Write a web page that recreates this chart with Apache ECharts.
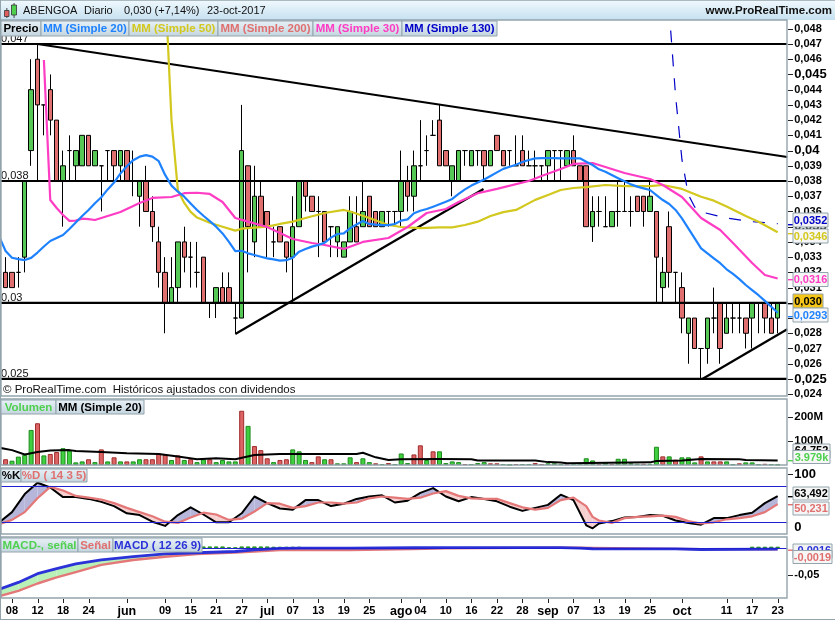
<!DOCTYPE html>
<html><head><meta charset="utf-8">
<style>html,body{margin:0;padding:0;background:#fff}#c{width:835px;height:620px}</style>
<script src="https://cdn.jsdelivr.net/npm/echarts@6/dist/echarts.min.js"></script>
</head><body><div id="c"></div>
<script>
const dates=['05-04','05-05','05-08','05-09','05-10','05-11','05-12','05-15','05-16','05-17','05-18','05-19','05-22','05-23','05-24','05-25','05-26','05-29','05-30','05-31','06-01','06-02','06-05','06-06','06-07','06-08','06-09','06-12','06-13','06-14','06-15','06-16','06-19','06-20','06-21','06-22','06-23','06-26','06-27','06-28','06-29','06-30','07-03','07-04','07-05','07-06','07-07','07-10','07-11','07-12','07-13','07-14','07-17','07-18','07-19','07-20','07-21','07-24','07-25','07-26','07-27','07-28','07-31','08-01','08-02','08-03','08-04','08-07','08-08','08-09','08-10','08-11','08-14','08-15','08-16','08-17','08-18','08-21','08-22','08-23','08-24','08-25','08-28','08-29','08-30','08-31','09-01','09-04','09-05','09-06','09-07','09-08','09-11','09-12','09-13','09-14','09-15','09-18','09-19','09-20','09-21','09-22','09-25','09-26','09-27','09-28','09-29','10-02','10-03','10-04','10-05','10-06','10-09','10-10','10-11','10-12','10-13','10-16','10-17','10-18','10-19','10-20','10-23','10-24'];
const tickLabels={'05-08':'08','05-12':'12','05-18':'18','05-24':'24','06-01':'jun','06-09':'09','06-15':'15','06-21':'21','06-27':'27','07-03':'jul','07-07':'07','07-13':'13','07-19':'19','07-25':'25','08-01':'ago','08-04':'04','08-10':'10','08-16':'16','08-22':'22','08-28':'28','09-01':'sep','09-07':'07','09-13':'13','09-19':'19','09-25':'25','10-02':'oct','10-11':'11','10-17':'17','10-23':'23'};
const opens=[0.032,0.032,0.032,0.033,0.040,0.046,0.043,0.044,0.042,0.038,0.040,0.039,0.039,0.041,0.039,0.039,0.040,0.040,0.039,0.040,0.038,0.037,0.038,0.036,0.034,0.032,0.030,0.031,0.034,0.033,0.032,0.033,0.030,0.030,0.031,0.031,0.029,0.029,0.039,0.034,0.037,0.036,0.034,0.035,0.034,0.033,0.035,0.038,0.037,0.036,0.036,0.035,0.034,0.033,0.034,0.035,0.035,0.037,0.036,0.035,0.036,0.036,0.036,0.038,0.037,0.039,0.040,0.041,0.042,0.040,0.038,0.038,0.040,0.039,0.040,0.040,0.039,0.041,0.040,0.040,0.039,0.040,0.039,0.039,0.039,0.039,0.040,0.040,0.039,0.040,0.039,0.039,0.035,0.036,0.035,0.035,0.036,0.036,0.036,0.037,0.037,0.036,0.036,0.031,0.035,0.032,0.031,0.028,0.029,0.027,0.027,0.029,0.030,0.028,0.029,0.029,0.029,0.029,0.030,0.030,0.029,0.029];
const closes=[0.031,0.031,0.032,0.038,0.044,0.043,0.043,0.042,0.038,0.039,0.040,0.040,0.041,0.039,0.040,0.039,0.040,0.039,0.040,0.038,0.038,0.038,0.036,0.035,0.032,0.030,0.031,0.034,0.033,0.033,0.032,0.030,0.030,0.031,0.030,0.030,0.029,0.040,0.035,0.037,0.035,0.035,0.034,0.034,0.033,0.035,0.038,0.037,0.036,0.036,0.034,0.035,0.035,0.034,0.036,0.034,0.036,0.035,0.035,0.036,0.036,0.036,0.038,0.037,0.039,0.039,0.040,0.041,0.039,0.039,0.039,0.040,0.040,0.040,0.040,0.039,0.040,0.040,0.039,0.040,0.039,0.039,0.039,0.039,0.039,0.040,0.040,0.040,0.040,0.039,0.038,0.035,0.036,0.036,0.035,0.036,0.036,0.036,0.036,0.036,0.036,0.037,0.033,0.032,0.032,0.032,0.029,0.029,0.027,0.027,0.029,0.029,0.027,0.029,0.029,0.029,0.028,0.030,0.030,0.029,0.028,0.030];
const lows=[0.031,0.031,0.031,0.032,0.039,0.038,0.041,0.041,0.038,0.035,0.038,0.038,0.039,0.039,0.039,0.036,0.038,0.038,0.038,0.038,0.037,0.035,0.036,0.034,0.031,0.028,0.030,0.030,0.032,0.031,0.031,0.030,0.029,0.029,0.030,0.030,0.028,0.029,0.032,0.033,0.035,0.033,0.033,0.034,0.032,0.030,0.035,0.036,0.036,0.033,0.034,0.033,0.033,0.033,0.034,0.034,0.035,0.035,0.035,0.035,0.035,0.035,0.035,0.036,0.036,0.038,0.039,0.041,0.039,0.039,0.037,0.038,0.039,0.039,0.039,0.038,0.039,0.040,0.039,0.039,0.039,0.039,0.039,0.038,0.038,0.038,0.038,0.038,0.039,0.039,0.038,0.035,0.034,0.035,0.035,0.035,0.035,0.036,0.035,0.036,0.035,0.036,0.030,0.030,0.031,0.030,0.028,0.026,0.027,0.025,0.026,0.028,0.026,0.028,0.028,0.028,0.027,0.027,0.028,0.028,0.028,0.028];
const highs=[0.033,0.032,0.033,0.038,0.046,0.047,0.043,0.045,0.042,0.040,0.041,0.040,0.041,0.041,0.040,0.039,0.040,0.040,0.040,0.040,0.040,0.038,0.039,0.037,0.035,0.033,0.033,0.034,0.035,0.034,0.034,0.033,0.030,0.031,0.032,0.032,0.030,0.043,0.039,0.039,0.038,0.036,0.035,0.035,0.034,0.037,0.038,0.038,0.037,0.037,0.036,0.035,0.035,0.034,0.037,0.037,0.038,0.037,0.036,0.036,0.036,0.036,0.040,0.039,0.040,0.042,0.041,0.042,0.043,0.040,0.039,0.040,0.040,0.040,0.040,0.040,0.040,0.041,0.040,0.040,0.041,0.041,0.040,0.040,0.039,0.040,0.040,0.040,0.040,0.041,0.039,0.039,0.037,0.037,0.037,0.036,0.038,0.038,0.037,0.037,0.037,0.038,0.036,0.033,0.036,0.032,0.032,0.029,0.029,0.027,0.029,0.031,0.030,0.030,0.030,0.030,0.029,0.030,0.030,0.030,0.030,0.030];
const ma20=[0.03435,0.0334,0.03296,0.03287,0.03281,0.03295,0.0333,0.0337,0.03406,0.03425,0.03445,0.03485,0.03527,0.0357,0.0361,0.03654,0.03693,0.03745,0.0379,0.0385,0.03897,0.03937,0.0396,0.0397,0.0396,0.0393,0.0384,0.0377,0.0373,0.03697,0.03653,0.0361,0.03572,0.03537,0.035,0.03456,0.034,0.0334,0.03342,0.03325,0.03314,0.03303,0.03292,0.03285,0.03277,0.0328,0.03296,0.03336,0.03353,0.03369,0.0338,0.03395,0.03428,0.03452,0.03456,0.0349,0.03515,0.03537,0.03518,0.03513,0.0351,0.0351,0.03518,0.0354,0.03548,0.03588,0.03605,0.03616,0.03631,0.03647,0.03664,0.03682,0.03715,0.03745,0.0377,0.0379,0.0381,0.03833,0.03857,0.0388,0.03894,0.03907,0.03925,0.03938,0.03949,0.0395,0.0395,0.0395,0.03949,0.03949,0.03949,0.03949,0.03927,0.03905,0.03877,0.03861,0.03839,0.03818,0.03798,0.03778,0.03763,0.03752,0.03741,0.03708,0.03675,0.03649,0.0361,0.03555,0.03489,0.03423,0.03358,0.03325,0.03292,0.0326,0.0322,0.0319,0.03156,0.03117,0.03084,0.0305,0.03013,0.02974,0.02935];
const ma30=[[7,0.04595],[8,0.03675],[9,0.03623],[10,0.03577],[11,0.03538],[12,0.0354],[13,0.03553],[14,0.0355],[15,0.03544],[19,0.03597],[22,0.03656],[24,0.03689],[27,0.03695],[29,0.0372],[31,0.03723],[33,0.03715],[35,0.03662],[37,0.03557],[39,0.03533],[42,0.03498],[44,0.03459],[46,0.03419],[49,0.03393],[51,0.0338],[54,0.03354],[57,0.034],[61,0.03426],[64,0.03498],[67,0.0359],[70,0.03616],[72,0.03662],[75,0.0372],[78,0.03748],[83,0.038],[85,0.03833],[88,0.03879],[90,0.03912],[93,0.03918],[95,0.03892],[98,0.03853],[102,0.03813],[104,0.03774],[107,0.03695],[110,0.03557],[113,0.03478],[115,0.03393],[118,0.03262],[120,0.03183],[122,0.0316]];
const ma50=[[26,0.051],[27,0.042],[28,0.0374],[29,0.03656],[30,0.03597],[31,0.0356],[33,0.03526],[35,0.035],[37,0.03474],[38,0.03487],[42,0.035],[44,0.03518],[46,0.03533],[48,0.03557],[51,0.0359],[54,0.0361],[55,0.036],[58,0.03557],[61,0.03511],[63,0.03498],[66,0.0349],[69,0.03496],[71,0.03496],[73,0.03511],[75,0.03533],[77,0.0357],[79,0.03596],[81,0.0361],[84,0.03676],[86,0.03708],[88,0.03741],[90,0.03754],[92,0.0376],[95,0.03774],[98,0.03767],[102,0.03767],[104,0.03774],[107,0.03748],[110,0.03697],[112,0.03671],[114,0.03632],[117,0.0357],[119,0.03533],[122,0.03464]];
const ma130=[[105,0.0492],[106,0.0436],[107,0.0394],[108,0.0371],[109,0.0363],[110,0.03597],[114,0.03557],[118,0.03533],[122,0.0352]];
const levels=[0.047,0.038,0.03,0.025];
const trendLines=[[[5.98,0.047],[123.5,0.03958]],[[37,0.02795],[75.9,0.03748]],[[110.2,0.025],[123.5,0.02826]]];
const priceTicks=[0.024,0.025,0.026,0.027,0.028,0.029,0.03,0.031,0.032,0.033,0.034,0.035,0.036,0.037,0.038,0.039,0.04,0.041,0.042,0.043,0.044,0.045,0.046,0.047,0.048];
const volumeTicks=[100,200];
const stochTickLabels=[0,100];
const stochTicks=[100];
const macdTicks=[-0.05];
const volumes=[24,18,35,42,146,174,40,46,54,70,60,11,15,24,12,65,15,32,15,15,15,24,24,24,48,43,21,40,21,24,12,24,24,12,21,15,15,226,163,79,62,28,12,21,24,65,57,21,12,36,24,24,7,7,32,12,28,12,7,4,8,4,48,8,44,82,21,57,57,8,15,12,4,4,8,12,7,7,4,1,4,4,4,8,4,7,7,4,4,8,8,28,19,4,10,4,26,26,7,5,5,5,76,36,36,22,32,32,11,36,15,15,15,15,3,7,11,11,3,5,3,2];
const volSides='rgggg rgrrg gggrg rgrgr ggrrr rgrgr ggrgg ggrgr rrgrr gggrr grggg rggrg rgggr rgrgg ggrgg grrgg rggrr gggrg gggrg rgggg rggrg rgggr grrgg rgggr ggggr ggrgr ggrgrrr'.replace(/ /g,'').split('');
const volMA=[[0,72],[2,62],[4,44],[6,54],[8,60],[11,62],[12,58],[16,54],[20,49],[25,46],[28,35],[31,24],[34,28],[37,24],[40,42],[44,46],[56,46],[57,51],[59,32],[61,21],[63,24],[69,25],[74,24],[75,19],[84,19],[86,12],[88,10],[89,7],[102,11],[103,17],[107,19],[110,25],[116,24],[117,21],[122,19]];
const stochBars=[0,2,4,6,8,10,12,14,16,18,20,22,24,26,28,30,32,34,36,38,40,42,44,46,48,50,52,54,56,58,60,62,64,66,68,70,72,74,76,78,80,82,84,86,88,90,92,93,94,96,98,100,102,104,106,108,110,112,114,116,118,120,122];
const stochK=[20,37,67,86,78,62,62,59,54,47,35,32,21,14,32,45,33,20,20,35,63,52,43,41,57,57,47,51,59,63,65,53,56,69,77,63,55,62,59,55,46,39,44,49,66,57,15,10,18,22,28,29,32,31,23,19,16,27,27,32,36,52,63.492];
const stochD=[17,24,37,60,79,73,64,61,58,52,44,37,30,21,19,28,36,33,24,26,38,52,51,44,47,53,53,51,53,60,63,61,59,61,68,72,64,60,59,59,52,45,41,44,57,61,47,29,23,19,27,29,30,31,29,22,18,20,25,27,30,37,50.231];
const macdBars=[0,3,6,9,12,16,21,26,31,37,40,44,47,55,65,70,88,91,93,106,110,122];
const macdLine=[-0.077,-0.064,-0.0476,-0.038,-0.029,-0.0215,-0.0156,-0.0106,-0.0083,-0.006,-0.003,-0.0002,0.0002,0.0004,0.001,0.0012,0.0012,0.0005,-0.0008,-0.001,-0.0022,-0.0016];
const signalLine=[-0.09,-0.08,-0.066,-0.0545,-0.0445,-0.031,-0.0219,-0.0158,-0.0108,-0.008,-0.006,-0.0031,-0.0035,-0.0032,-0.0012,0,0.0012,0.0012,0.0005,-0.001,-0.0016,-0.0019];
const macdHist=[[32,0.0035],[33,0.0035],[34,0.0035],[35,0.0035],[36,0.0015],[37,0.0015],[38,0.0035],[39,0.0035],[40,0.0035],[41,0.0035],[42,0.0035],[43,0.003],[44,0.003],[45,0.003],[46,0.003],[47,0.003],[48,0.0025],[49,0.0025],[50,0.002],[51,0.002],[52,0.002],[53,0.0015],[54,0.0015],[55,0.0015],[56,0.0015],[57,0.0015],[58,0.001],[59,0.001],[60,0.001],[61,0.001],[62,0.001],[63,0.001],[64,0.001],[118,0.003],[119,0.003],[120,0.003],[121,0.003],[122,0.003]];

const FONT='"Liberation Sans",Arial,sans-serif';
const GRID_L=-3.97,GRID_W=791.2;
const grids=[[20,376],[399,66],[468,66.3],[537,61]].map(([top,height])=>({left:GRID_L,width:GRID_W,top,height,containLabel:false,outerBoundsMode:'none'}));
const UP='#55c855',DOWN='#e07070';
const volItems=volumes.map((v,i)=>({value:[i+1,v],itemStyle:volSides[i]==='g'?{color:'#3fcf3f',borderColor:'#1e8a1e'}:{color:'#dc6464',borderColor:'#a02c2c'}}));
const candleData=[['-','-','-','-']].concat(opens.map((o,i)=>[o,closes[i],lows[i],highs[i]]));
function priceLabel(v){const s=String(+(+v).toFixed(3)).replace('.',',');return [0.025,0.03,0.035,0.04,0.045].some(b=>Math.abs(b-v)<1e-6)?'{b|'+s+'}':s;}
function catAxis(g,show){return {type:'category',gridIndex:g,data:dates,boundaryGap:true,axisLine:{show:false},splitLine:{show:false},
 axisTick:{show:false},
 axisLabel:{show:show,interval:(i,n)=>n in tickLabels,margin:7,formatter:n=>{const t=tickLabels[n]||'';return /[a-z]/.test(t)?'{m|'+t+'}':t;},fontFamily:FONT,fontWeight:'bold',fontSize:11,color:'#000',rich:{m:{fontFamily:FONT,fontWeight:'bold',fontSize:12.5,color:'#000'}}}};}
function band(xi,yi,idx,a,b,pos,neg){
 const data=[];for(let i=0;i<idx.length-1;i++)data.push([idx[i],a[i],b[i],idx[i+1],a[i+1],b[i+1]]);
 return {type:'custom',xAxisIndex:xi,yAxisIndex:yi,clip:true,silent:true,z:1,encode:{x:0,y:1},data,
  renderItem:(p,api)=>{const j0=api.value(0),a0=api.value(1),b0=api.value(2),j1=api.value(3),a1=api.value(4),b1=api.value(5);
   const P=(j,v)=>api.coord([j,v]);const poly=(pts,c)=>({type:'polygon',shape:{points:pts},style:{fill:c}});
   const d0=a0-b0,d1=a1-b1;
   if(d0*d1<0){const t=d0/(d0-d1),jx=j0+(j1-j0)*t,vx=a0+(a1-a0)*t;const X=P(jx,vx);
    return {type:'group',children:[poly([P(j0,a0),X,P(j0,b0)],d0>0?pos:neg),poly([X,P(j1,a1),P(j1,b1)],d1>0?pos:neg)]};}
   return poly([P(j0,a0),P(j1,a1),P(j1,b1),P(j0,b0)],(d0+d1)>=0?pos:neg);}};
}
function line(xi,yi,data,color,width,extra){return Object.assign({type:'line',xAxisIndex:xi,yAxisIndex:yi,data,symbol:'none',showSymbol:false,clip:true,silent:true,z:4,lineStyle:{color,width,cap:'butt',join:'round'}},extra||{});}
const labelFont={fontFamily:FONT,fontWeight:'bold',color:'#000'};
const option={animation:false,backgroundColor:'#fff',grid:grids,
 xAxis:[catAxis(0,false),{type:'value',gridIndex:0,min:-0.5,max:123.5,show:false},catAxis(1,false),catAxis(2,false),catAxis(3,true)],
 yAxis:[
  {type:'value',gridIndex:0,position:'right',min:0.02388,max:0.048576,splitLine:{show:false},axisLine:{show:false},axisTick:{show:false},
   axisLabel:Object.assign({customValues:priceTicks,margin:7,fontSize:11,hideOverlap:false,formatter:priceLabel,rich:{b:Object.assign({fontSize:13},labelFont)}},labelFont)},
  {type:'value',gridIndex:1,position:'right',min:0,max:275,splitLine:{show:false},axisLine:{show:false},axisTick:{show:false},
   axisLabel:Object.assign({customValues:volumeTicks,margin:7,fontSize:11.5,formatter:v=>v+'M'},labelFont)},
  {type:'value',gridIndex:2,position:'right',min:0,max:110.5,splitLine:{show:false},axisLine:{show:false},axisTick:{show:false},
   axisLabel:Object.assign({customValues:stochTickLabels,margin:7,fontSize:13,verticalAlignMinLabel:'bottom'},labelFont)},
  {type:'value',gridIndex:3,position:'right',min:-0.0932,max:0.0212,splitLine:{show:false},axisLine:{show:false},axisTick:{show:false},
   axisLabel:Object.assign({customValues:macdTicks,margin:7,fontSize:11,formatter:v=>String(v).replace('.',',')},labelFont)}
 ],
 series:[
  {type:'candlestick',xAxisIndex:0,yAxisIndex:0,data:candleData,barWidth:5,clip:true,silent:true,z:2,
   itemStyle:{color:UP,color0:DOWN,borderColor:'#000',borderColor0:'#000',borderColorDoji:'#000',borderWidth:1}},
  ...levels.map(v=>line(1,0,[[-0.5,v],[123.5,v]],'#000',2.2)),
  ...trendLines.map(t=>line(1,0,t,'#000',2.2)),
  line(0,0,ma130,'#0000c8',1.2,{lineStyle:{color:'#0000c8',width:1.2,type:[12,12],dashOffset:4}}),
  line(0,0,ma50,'#d2c81e',2.2),
  line(0,0,ma30,'#ff3cc4',2.2),
  line(0,0,ma20,'#1e82ff',2.2),
  {type:'bar',xAxisIndex:2,yAxisIndex:1,data:volItems,barWidth:5,silent:true,z:2,itemStyle:{borderWidth:1}},
  line(2,1,volMA,'#000',2),
  band(3,2,stochBars,stochK,stochD,'#b6b6da','#f6cfcf'),
  line(3,2,stochBars.map((j,i)=>[j,stochK[i]]),'#000',2,{markLine:{silent:true,symbol:'none',label:{show:false},animation:false,data:[{yAxis:80},{yAxis:20}],lineStyle:{color:'#2020d0',width:1.2,type:'solid'}}}),
  line(3,2,stochBars.map((j,i)=>[j,stochD[i]]),'#e47878',2.2),
  {type:'bar',xAxisIndex:4,yAxisIndex:3,data:macdHist,barWidth:4.5,silent:true,z:2,itemStyle:{color:'#46c846',borderColor:'#1e8a1e',borderWidth:1}},
  band(4,3,macdBars,macdLine,signalLine,'#b8f0b8','#f6cfcf'),
  line(4,3,macdBars.map((j,i)=>[j,signalLine[i]]),'#e47878',2.4),
  line(4,3,macdBars.map((j,i)=>[j,macdLine[i]]),'#2a32d8',2.8,{markLine:{silent:true,symbol:'none',label:{show:false},animation:false,data:[{yAxis:0}],lineStyle:{color:'#2020d0',width:1.2,type:'solid'}}})
 ],
 graphic:(function(){
  const el=[],G='#93a4ac';
  const grad=(a,b)=>({type:'linear',x:0,y:0,x2:0,y2:1,colorStops:[{offset:0,color:a},{offset:1,color:b}]});
  const rect=(x,y,w,h,st,z)=>el.push({type:'rect',silent:true,z:z||50,shape:{x,y,width:w,height:h},style:st});
  const txt=(x,y,text,font,fill,align,z)=>el.push({type:'text',silent:true,z:z||60,x,y,style:{text,font,fill,align:align||'left',verticalAlign:'middle'}});
  rect(0,0,835,20,{fill:grad('#f0f9fd','#c6e0f0')},40);
  rect(0,0,835,0.8,{fill:G},41);
  txt(23,11,'ABENGOA','11px '+FONT,'#111');
  txt(84,11,'Diario','11px '+FONT,'#111');
  txt(124,11,'0,030 (+7,14%)','11px '+FONT,'#111');
  txt(207,11,'23-oct-2017','11px '+FONT,'#111');
  txt(832,11,'www.ProRealTime.com','bold 11.5px '+FONT,'#111','right');
  rect(4.5,10.5,4.5,6,{fill:'#e06060',stroke:'#333',lineWidth:0.8},45);
  rect(11.5,5,5,10,{fill:'#4fd04f',stroke:'#333',lineWidth:0.8},45);
  rect(13.6,3,0.9,15,{fill:'#333'},44);
  rect(6.4,8,0.9,10,{fill:'#333'},44);
  rect(0,0,1,620,{fill:G},41);
  rect(0,619,835,1,{fill:G},41);
  [[20,376],[399,66],[468,66],[537,61]].forEach(([y,h])=>rect(1,y,786,h,{fill:'none',stroke:G,lineWidth:1.4},41));
  rect(2,382,784,13,{fill:'#fff'},42);
  txt(3,390,'© ProRealTime.com  Históricos ajustados con dividendos','11.5px '+FONT,'#111');
  [['0,047',39],['0,038',175.5],['0,03',297.5],['0,025',373.5]].forEach(([t,y])=>txt(1,y,t,'11px '+FONT,'#111','left',30));
  const strip=(x0,x1,y0,y1,text,color)=>{rect(x0,y0,x1-x0,y1-y0,{fill:grad('#e8f1f6','#c4d5df'),stroke:G,lineWidth:1},55);txt((x0+x1)/2,(y0+y1)/2+0.5,text,'bold 11.5px '+FONT,color,'center');};
  strip(1,41,21,36,'Precio','#000');
  strip(41,129,21,36,'MM (Simple 20)','#1e82ff');
  strip(129,218,21,36,'MM (Simple 50)','#d2c81e');
  strip(218,313,21,36,'MM (Simple 200)','#e07070');
  strip(313,402,21,36,'MM (Simple 30)','#ff3cc4');
  strip(402,497,21,36,'MM (Simple 130)','#0000c8');
  strip(1,56,400,414,'Volumen','#4fd04f');
  strip(56,144,400,414,'MM (Simple 20)','#000');
  strip(1,21,469,482,'%K','#000');
  strip(21,87,469,482,'%D ( 14 3 5)','#e07070');
  strip(1,78,538,552,'MACD-, señal','#4fd04f');
  strip(78,113,538,552,'Señal','#e07070');
  strip(113,202,538,552,'MACD ( 12 26 9)','#2a32d8');
  const box=(x,y,w,h,text,color,bg,size,tick,z)=>{ if(tick!==undefined) rect(788,tick,5,1.4,{fill:color},54);
    rect(x,y,w,h,{fill:bg||'#f2f2f2',stroke:G,lineWidth:1},z||70);if(text)txt(x+w/2,y+h/2+0.5,text,'bold '+(size||11)+'px '+FONT,color,'center',(z||70)+1);};
  box(793,213,35,14,'0,0352','#0000c8','#f2f2f2',11,224);
  box(793,229,35,14,'0,0346','#d2c81e','#f6f6f6',11,233);
  box(793,272.5,35,14,'0,0316','#ff3cc4','#f6f6f6',11,279);
  box(793,294,30,14,'0,030','#000','#f5c518',11,303);
  box(793,308,35,14,'0,0293','#1e82ff','#f6f6f6',11,316);
  box(793,444,37,14,'','#000','#f2f2f2',11,undefined,66);
  txt(811.5,451,'64.752','bold 11px '+FONT,'#000','center',67);
  box(793,450.5,37,13,'3.979k','#4fd04f','#f6f6f6',11,460);
  box(793,487,36,13,'63,492','#000','#f6f6f6',11,496);
  box(793,502,36,13,'50,231','#e07070','#f6f6f6',11,504);
  box(793,544,39,14,'','#2a32d8','#f2f2f2',11,undefined,66);
  txt(812.5,551,'-0,0016','bold 11px '+FONT,'#2a32d8','center',67);
  box(793,550.5,39,13,'-0,0019','#e07070','#f6f6f6',11,549.5);
  return el;
 })()
};
const chart=echarts.init(document.getElementById('c'),null,{renderer:'canvas'});
chart.setOption(option);
// axis tick marks, placed through each pane's own scale
const tickMarks=[];
const mark=(x,y,w,h)=>tickMarks.push({type:'rect',silent:true,z:53,shape:{x,y,width:w,height:h},style:{fill:'#222'}});
[[0,priceTicks],[1,volumeTicks],[2,stochTicks],[3,macdTicks]].forEach(([a,vals])=>vals.forEach(v=>mark(788,Math.round(chart.convertToPixel({yAxisIndex:a},v)),5,1)));
Object.keys(tickLabels).forEach(d=>mark(Math.round(chart.convertToPixel({xAxisIndex:4},d)),599,1,4));
chart.setOption({graphic:option.graphic.concat(tickMarks)});
</script></body></html>
